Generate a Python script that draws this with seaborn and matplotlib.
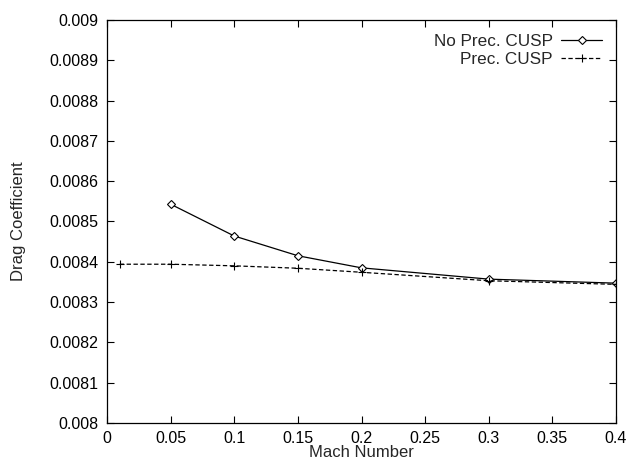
import matplotlib
matplotlib.use("Agg")
import matplotlib.pyplot as plt
import seaborn as sns
import pandas as pd

mach_noprec = [0.05, 0.10, 0.15, 0.20, 0.30, 0.40]
cd_noprec = [0.008543, 0.008464, 0.008415, 0.008385, 0.008357, 0.008347]

mach_prec = [0.01, 0.05, 0.10, 0.15, 0.20, 0.30, 0.40]
cd_prec = [0.008394, 0.008394, 0.008390, 0.008384, 0.008374, 0.008353, 0.008344]

x_ticks = [0, 0.05, 0.1, 0.15, 0.2, 0.25, 0.3, 0.35, 0.4]
x_labels = ["0", "0.05", "0.1", "0.15", "0.2", "0.25", "0.3", "0.35", "0.4"]
y_ticks = [0.008, 0.0081, 0.0082, 0.0083, 0.0084, 0.0085, 0.0086, 0.0087, 0.0088, 0.0089, 0.009]
y_labels = ["0.008", "0.0081", "0.0082", "0.0083", "0.0084", "0.0085", "0.0086",
            "0.0087", "0.0088", "0.0089", "0.009"]

sns.set_style("ticks")
plt.rcParams['font.family'] = ['Liberation Sans', 'DejaVu Sans']

fig = plt.figure(figsize=(6.3, 4.62), dpi=100)
ax = fig.add_axes([107/630, 1 - 423/462, (616-107)/630, (423-20)/462])

df1 = pd.DataFrame({"x": mach_noprec, "y": cd_noprec})
df2 = pd.DataFrame({"x": mach_prec, "y": cd_prec})

sns.lineplot(data=df1, x="x", y="y", ax=ax, color="black", linewidth=0.9,
             marker="D", markersize=3.6, markerfacecolor="white",
             markeredgecolor="black", markeredgewidth=0.8, label="No Prec. CUSP")
sns.lineplot(data=df2, x="x", y="y", ax=ax, color="black", linewidth=0.9,
             linestyle=(0, (3.5, 2.0)), marker="+", markersize=5.5,
             markeredgecolor="black", markerfacecolor="black",
             markeredgewidth=0.8, label="Prec. CUSP")

ax.set_xlim(0, 0.4)
ax.set_ylim(0.008, 0.009)
ax.set_xticks(x_ticks)
ax.set_xticklabels(x_labels)
ax.set_yticks(y_ticks)
ax.set_yticklabels(y_labels)
ax.tick_params(direction="in", top=True, right=True, length=5, width=0.8,
               labelsize=11.5, colors="black", pad=6)
for s in ax.spines.values():
    s.set_linewidth(0.9)
    s.set_color("black")
    s.set_visible(True)

ax.set_xlabel("Mach Number", fontsize=12, labelpad=-1)
ax.set_ylabel("Drag Coefficient", fontsize=12, labelpad=17)

leg = ax.legend(loc="upper right", frameon=False, markerfirst=False,
                fontsize=12.3, handlelength=2.4, handletextpad=0.5,
                borderaxespad=0.4, labelspacing=0.2)
for t in leg.get_texts():
    t.set_ha("right")
leg._legend_box.align = "right"

fig.savefig("out.png", dpi=100)
